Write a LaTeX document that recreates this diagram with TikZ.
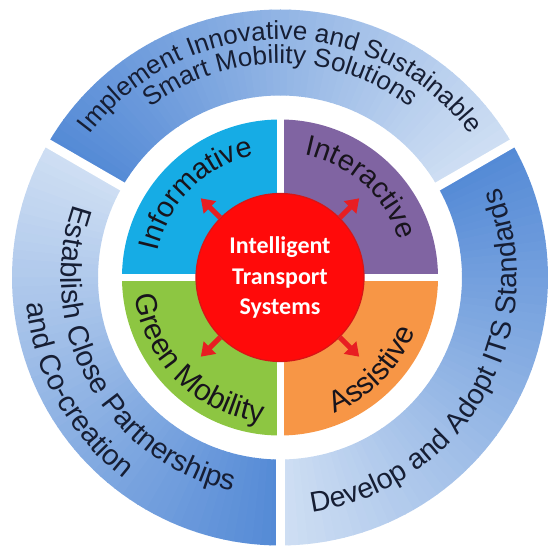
\documentclass[tikz,border=0pt]{standalone}
\usepackage{fontspec}
\setmainfont{Liberation Sans}
\newfontfamily\itsfont{Carlito}
\usetikzlibrary{calc,decorations.text,arrows.meta}

\definecolor{ringdark}{RGB}{84,138,214}
\definecolor{ringlight}{RGB}{206,222,243}
\definecolor{qcyan}{RGB}{22,172,229}
\definecolor{qpurple}{RGB}{128,100,162}
\definecolor{qgreen}{RGB}{141,198,66}
\definecolor{qorange}{RGB}{247,150,70}
\definecolor{corered}{RGB}{255,10,10}
\definecolor{coreedge}{RGB}{215,22,22}
\definecolor{arrowred}{RGB}{232,30,34}
\definecolor{ringtext}{RGB}{22,30,52}
\definecolor{quadtext}{RGB}{24,20,28}

\tikzset{
  ringlabel/.style={decorate, decoration={text along path, text align=center, text color=ringtext}},
  quadlabel/.style={decorate, decoration={text along path, text align=center, text color=quadtext}},
  gapline/.style={draw=white, line width=#1},
  coredisc/.style={circle, minimum size=168pt, inner sep=0pt, fill=corered, draw=coreedge,
    line width=1.2pt, text=white, align=center,
    font=\itsfont\bfseries\fontsize{24}{30.5}\selectfont},
  burst/.style={draw=arrowred, line width=5pt, -{Triangle[length=13pt,width=17pt,fill=arrowred]}},
}

\begin{document}
\begin{tikzpicture}[x=1pt,y=1pt]
\useasboundingbox (0,0) rectangle (547,549);
\coordinate (C) at (280,271.5);

% outer ring: three segments, each shaded dark to light going clockwise
\foreach \s in {150,30,270}{
  \foreach \i in {0,...,59}{
    \pgfmathsetmacro\aa{\s-2*\i}
    \pgfmathsetmacro\bb{\s-2*\i-2.2}
    \pgfmathtruncatemacro\p{100-\i*100/59}
    \fill[ringdark!\p!ringlight] ($(C)+(\aa:268)$) arc[start angle=\aa, end angle=\bb, radius=268]
      -- ($(C)+(\bb:182)$) arc[start angle=\bb, end angle=\aa, radius=182] -- cycle;
  }
}
\foreach \g in {30,150,270}{
  \draw[gapline=9pt] ($(C)+(\g:176)$) -- ($(C)+(\g:276)$);
}

% four quadrants
\fill[qcyan]   (C) -- ($(C)+(90:158)$)  arc[start angle=90,  end angle=180, radius=158] -- cycle;
\fill[qpurple] (C) -- ($(C)+(0:158)$)   arc[start angle=0,   end angle=90,  radius=158] -- cycle;
\fill[qgreen]  (C) -- ($(C)+(180:158)$) arc[start angle=180, end angle=270, radius=158] -- cycle;
\fill[qorange] (C) -- ($(C)+(270:158)$) arc[start angle=270, end angle=360, radius=158] -- cycle;
\draw[gapline=7pt] ($(C)+(-162,0)$) -- ($(C)+(162,0)$);
\draw[gapline=7pt] ($(C)+(0,-162)$) -- ($(C)+(0,162)$);

% ring labels
\path[ringlabel, decoration={text={|\fontsize{26}{26}\selectfont|Implement Innovative and Sustainable}}]
  ($(C)+(148:238)$) arc[start angle=148, end angle=32, radius=238];
\path[ringlabel, decoration={text={|\fontsize{26}{26}\selectfont|Smart Mobility Solutions}}]
  ($(C)+(148:214)$) arc[start angle=148, end angle=32, radius=214];
\path[ringlabel, decoration={text={|\fontsize{29}{29}\selectfont|Establish Close Partnerships}}]
  ($(C)+(151:219)$) arc[start angle=151, end angle=267, radius=219];
\path[ringlabel, decoration={text={|\fontsize{29}{29}\selectfont|and Co-creation}}]
  ($(C)+(151:255)$) arc[start angle=151, end angle=267, radius=255];
\path[ringlabel, decoration={text={|\fontsize{28.5}{28.5}\selectfont|Develop and Adopt ITS Standards}}]
  ($(C)+(-88:237)$) arc[start angle=-88, end angle=28, radius=237];

% quadrant labels
\path[quadlabel, decoration={text={|\fontsize{29}{29}\selectfont|Informative}}]
  ($(C)+(178:125)$) arc[start angle=178, end angle=92, radius=125];
\path[quadlabel, decoration={text={|\fontsize{29}{29}\selectfont|Interactive}}]
  ($(C)+(91:125)$) arc[start angle=91, end angle=5, radius=125];
\path[quadlabel, decoration={text={|\fontsize{30}{30}\selectfont|Green Mobility}}]
  ($(C)+(182:146)$) arc[start angle=182, end angle=268, radius=146];
\path[quadlabel, decoration={text={|\fontsize{30}{30}\selectfont|Assistive}}]
  ($(C)+(-88:146)$) arc[start angle=-88, end angle=-2, radius=146];

% central disc with its four arrows
\node[coredisc] (core) at (C) {Intelligent\\Transport\\Systems};
\foreach \d/\n in {45/ne,135/nw,225/sw,315/se}{
  \coordinate (tip\n) at ($(C)+(\d:112)$);
  \draw[burst] (core.\d) -- (tip\n);
}
\end{tikzpicture}
\end{document}
